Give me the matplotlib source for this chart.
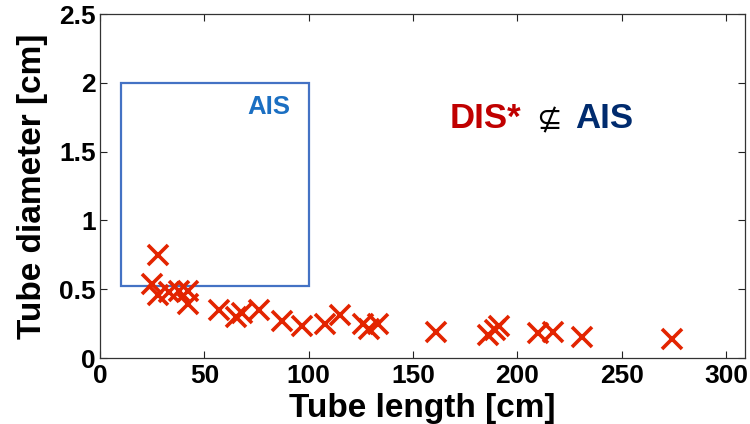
import matplotlib
matplotlib.use("Agg")
import matplotlib.pyplot as plt
from matplotlib.patches import Rectangle

# Data
tube_length = [25, 28, 28, 33, 38, 42, 42, 57, 65, 68, 76, 87, 97, 108, 115,
               126, 129, 133, 161, 186, 189, 191, 210, 217, 231, 274]
tube_diameter = [0.54, 0.46, 0.75, 0.48, 0.49, 0.49, 0.39, 0.35, 0.30, 0.33, 0.35,
                 0.27, 0.23, 0.25, 0.31, 0.25, 0.21, 0.25, 0.19, 0.17, 0.20,
                 0.23, 0.18, 0.19, 0.155, 0.14]
ais_box_x = [10, 100]
ais_box_y = [0.52, 2.0]
x_ticks = [0, 50, 100, 150, 200, 250, 300]
y_ticks = [0, 0.5, 1, 1.5, 2, 2.5]
y_tick_labels = ["0", "0.5", "1", "1.5", "2", "2.5"]

plt.rcParams['font.family'] = ['Liberation Sans', 'DejaVu Sans']

W, H = 750, 424
fig = plt.figure(figsize=(W / 100, H / 100), dpi=100)
ax = fig.add_axes([100 / W, (H - 358) / H, (745 - 100) / W, (358 - 14) / H])

ax.plot(tube_length, tube_diameter, linestyle='none', marker='x',
        markersize=14, markeredgewidth=2.6, color='#e32400')

ax.add_patch(Rectangle((ais_box_x[0], ais_box_y[0]), ais_box_x[1] - ais_box_x[0],
                       ais_box_y[1] - ais_box_y[0], fill=False,
                       edgecolor='#4472c4', linewidth=1.6))

ax.set_xlim(0, 309)
ax.set_ylim(0, 2.5)
ax.set_xticks(x_ticks)
ax.set_yticks(y_ticks)
ax.set_yticklabels(y_tick_labels)
ax.tick_params(direction='in', length=5, width=0.8, top=True, right=True,
               labelsize=19, colors='#222222')
ax.tick_params(axis='x', pad=4, labelcolor='black')
ax.tick_params(axis='y', pad=3, labelcolor='black')
for lab in ax.get_xticklabels() + ax.get_yticklabels():
    lab.set_fontweight('bold')
for s in ax.spines.values():
    s.set_linewidth(0.9)
    s.set_color('#333333')

ax.set_xlabel('Tube length [cm]', fontsize=24, fontweight='bold', labelpad=4)
ax.set_ylabel('Tube diameter [cm]', fontsize=24, fontweight='bold', labelpad=8)

def px(x, y):
    return x / W, (H - y) / H

fig.text(*px(247, 107), 'AIS', fontsize=18.5, fontweight='bold', color='#1b6fc2',
         ha='left', va='center')
fig.text(*px(450, 119), 'DIS*', fontsize=25, fontweight='bold', color='#c00000',
         ha='left', va='center')
fig.text(*px(549, 121), '\u2288', fontsize=22, color='black',
         ha='center', va='center', family=['DejaVu Sans'])
fig.text(*px(633, 119), 'AIS', fontsize=25, fontweight='bold', color='#002b6e',
         ha='right', va='center')

fig.savefig('out.png', dpi=100)
